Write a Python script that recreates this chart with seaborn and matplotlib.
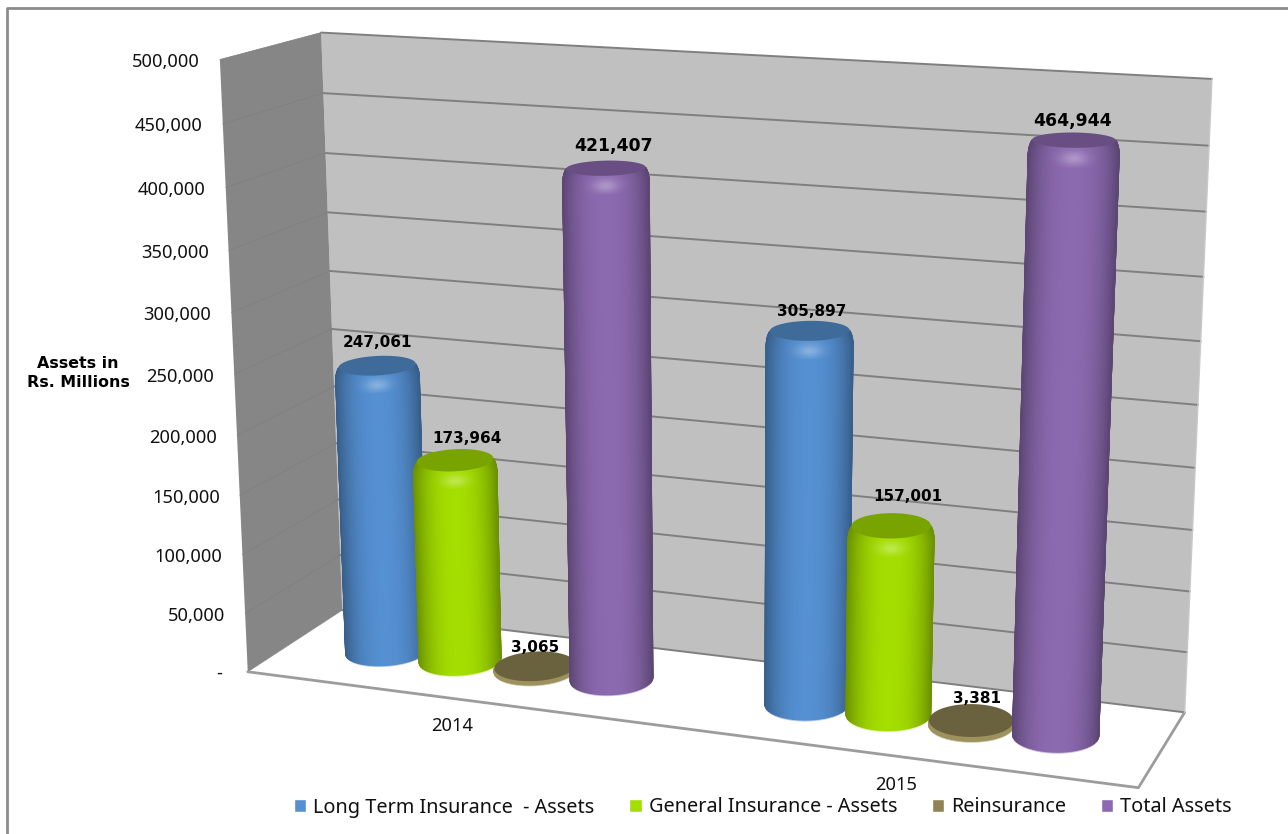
import numpy as np
import pandas as pd
import matplotlib
matplotlib.use("Agg")
import matplotlib.pyplot as plt
from matplotlib.colors import to_rgb
import seaborn as sns

# Chart values
years = ["2014", "2015"]
series = ["Long Term Insurance  - Assets", "General Insurance - Assets", "Reinsurance", "Total Assets"]
long_term = [247061, 305897]
general = [173964, 157001]
reinsurance = [3065, 3381]
total = [421407, 464944]
value_ticks = list(range(0, 500001, 50000))

# Styling per series
colors = ["#5590d2", "#a4de00", "#8f8554", "#8c6ab0"]
label_sizes = [11, 11, 11, 12.4]
label_shift = [[(0, -20), (2, -16)], [(12, -19), (17, -26)], [(0, -19), (6, -22)], [(8, -19), (-2, -16)]]

W, H = 1288, 834
sns.set_theme(style="white")
plt.rcParams["font.family"] = ["Noto Sans", "DejaVu Sans"]
fig = plt.figure(figsize=(W / 100, H / 100), dpi=100, facecolor="white")

# Seaborn lays out the dodged bars; they are then re-projected as cylinders in the scene.
frame = pd.DataFrame({
    "year": years * 4,
    "series": np.repeat(series, 2),
    "assets": long_term + general + reinsurance + total,
})
bar_ax = fig.add_axes([0, 0, 1, 1])
sns.barplot(data=frame, x="year", y="assets", hue="series", hue_order=series, order=years,
            palette=colors, saturation=1, width=0.73, gap=0, errorbar=None, ax=bar_ax)
handles, labels = bar_ax.get_legend_handles_labels()
bar_ax.get_legend().remove()
bars = [list(c) for c in bar_ax.containers]
bar_ax.set_visible(False)

ax = fig.add_axes([0, 0, 1, 1])
ax.set_xlim(0, W)
ax.set_ylim(H, 0)
ax.axis("off")

# Camera: category position, depth (0 front, 1 back) and value to image pixels
X0, X1, ZMAX = -0.5, 1.5, 500000
anchors = [
    ((X0, 0, 0), (248, 672)), ((X0, 0, ZMAX), (220, 59)),
    ((X0, 1, 0), (342, 610)), ((X0, 1, ZMAX), (321, 33)),
    ((X1, 1, 0), (1185, 712)), ((X1, 1, ZMAX), (1212, 79)),
    ((X1, 0, 0), (1138, 788)),
]
rows = []
for (x, y, z), (u, v) in anchors:
    z = z / ZMAX
    rows.append([x, y, z, 1, 0, 0, 0, 0, -u * x, -u * y, -u * z, -u])
    rows.append([0, 0, 0, 0, x, y, z, 1, -v * x, -v * y, -v * z, -v])
P = np.linalg.svd(np.array(rows, float))[2][-1].reshape(3, 4)


def project(x, y, z):
    x, y, z = np.broadcast_arrays(np.asarray(x, float), np.asarray(y, float), np.asarray(z, float) / ZMAX)
    pts = np.stack([x, y, z, np.ones_like(x)], axis=-1) @ P.T
    return pts[..., 0] / pts[..., 2], pts[..., 1] / pts[..., 2]


def fill(xs, ys, zs, **kw):
    ax.fill(*project(xs, ys, zs), **kw)


# Walls and floor
fill([X0, X1, X1, X0], [1, 1, 1, 1], [0, 0, ZMAX, ZMAX], fc="#c0c0c0", ec="none", zorder=1)
fill([X0, X0, X0, X0], [0, 1, 1, 0], [0, 0, ZMAX, ZMAX], fc="#868686", ec="none", zorder=1)
fill([X0, X1, X1, X0], [0, 0, 1, 1], [0, 0, 0, 0], fc="white", ec="none", zorder=1)
for v in value_ticks:
    ax.plot(*project([X0, X1], [1, 1], [v, v]), color="#7f7f7f", lw=1.4, zorder=2)
    ax.plot(*project([X0, X0], [0, 1], [v, v]), color="#7f7f7f", lw=0.5, zorder=2)
    px, py = project(X0, 0, v)
    ax.text(px - 20, py + 2.5, f"{v:,}" if v else "- ", ha="right", va="center", fontsize=13.2,
            color="#111111", zorder=6)
ax.plot(*project([X0, X1, X1], [0, 0, 1], [0, 0, 0]), color="#9c9c9c", lw=2.0, zorder=2)
ax.plot(*project([X1, X1], [1, 1], [0, ZMAX]), color="#c8c8c8", lw=1, zorder=2)

# Cylinders, painted from left to right
DEPTH, RY = 0.505, 0.22
BEVEL, DOME = 14000, 2500
order = 10
arc = np.linspace(0, 2 * np.pi, 361)
for i, group in enumerate(bars):
    base = np.array(to_rgb(colors[i]))
    for j, rect in enumerate(group):
        cx = rect.get_x() + rect.get_width() / 2
        rx = rect.get_width() * 0.488
        val = rect.get_height()
        tall = val > 2 * BEVEL
        order += 1

        # Pale rim under the base
        fill(cx + rx * np.cos(arc), DEPTH + RY * np.sin(arc), np.full(arc.shape, -1200.0),
             fc=tuple(base * 0.45 + 0.55), ec="none", zorder=order)

        # Front half of the side surface between the two silhouette points
        sx, sy = project(cx + rx * np.cos(arc), DEPTH + RY * np.sin(arc), 0 * arc)
        left, right = arc[np.argmin(sx)], arc[np.argmax(sx)]
        if right < left:
            right += 2 * np.pi
        theta = np.linspace(left, right, 60)
        if project(cx + rx * np.cos(theta[30]), DEPTH + RY * np.sin(theta[30]), 0.0)[1] < sy.mean():
            theta = np.linspace(left, right - 2 * np.pi, 60)

        top = val - DOME if tall else val
        bevel = BEVEL if tall else val * 0.7
        t = np.linspace(0, 1, 16)
        levels = np.concatenate([[0], top - bevel + bevel * t])
        shrink = np.concatenate([[1], 1 - (0.08 if tall else 0.01) * t ** 3])
        mx, my = project(cx + rx * np.outer(shrink, np.cos(theta)),
                         DEPTH + RY * np.outer(shrink, np.sin(theta)),
                         np.outer(levels, np.ones_like(theta)))

        # Cross-section shading plus a soft highlight on the shoulder
        u = np.sin(np.linspace(-1, 1, theta.size) * np.pi / 2)
        across = 0.66 + 0.34 * (1 - np.abs(u) ** 2.4)
        lift = np.concatenate([[0], t])
        shoulder = np.exp(-((lift - 0.5) / 0.36) ** 2) * (lift > 0)
        spot = np.outer(shoulder, np.exp(-(u / 0.3) ** 2))
        rgb = base[None, None, :] * across[None, :, None]
        rgb = rgb + (1 - rgb) * (0.3 * spot)[..., None]
        if not tall:
            rgb = np.broadcast_to(base * 1.1, rgb.shape)
        ax.pcolormesh(mx, my, rgb.clip(0, 1), shading="gouraud", zorder=order)

        # Top face
        fill(cx + shrink[-1] * rx * np.cos(arc), DEPTH + RY * shrink[-1] * np.sin(arc), np.full(arc.shape, float(top)),
             fc=tuple(base * 0.74), ec="none", zorder=order)

        # Value label
        lx, ly = project(cx, DEPTH, val)
        dx, dy = label_shift[i][j]
        ax.text(lx + dx, ly + dy, f"{int(val):,}", ha="center", va="center", fontsize=label_sizes[i],
                fontweight="bold", family="DejaVu Sans", color="black", zorder=60)

# Category labels in front of the floor
for c, year in enumerate(years):
    px, py = project(0.067 + c * 0.975, -0.33, 0)
    ax.text(px, py, year, ha="center", va="center", fontsize=13.2, color="#111111", zorder=6)

ax.text(78, 373, "Assets in\nRs. Millions", ha="center", va="center", fontsize=11.4, fontweight="bold",
        family="DejaVu Sans", color="black", linespacing=1.35, zorder=6)

fig.legend(handles, labels, ncol=4, frameon=False, fontsize=14.3, loc="center left",
           bbox_to_anchor=(294 / W, 1 - 807.5 / H), handlelength=0.62, handleheight=0.62,
           handletextpad=0.35, columnspacing=1.75, borderpad=0, borderaxespad=0, labelcolor="#111111")

# Outer chart border
ax.plot([7, 7, W], [H, 8, 8], color="#8c8c8c", lw=2, zorder=0, clip_on=False)

fig.savefig("out.png", dpi=100)
